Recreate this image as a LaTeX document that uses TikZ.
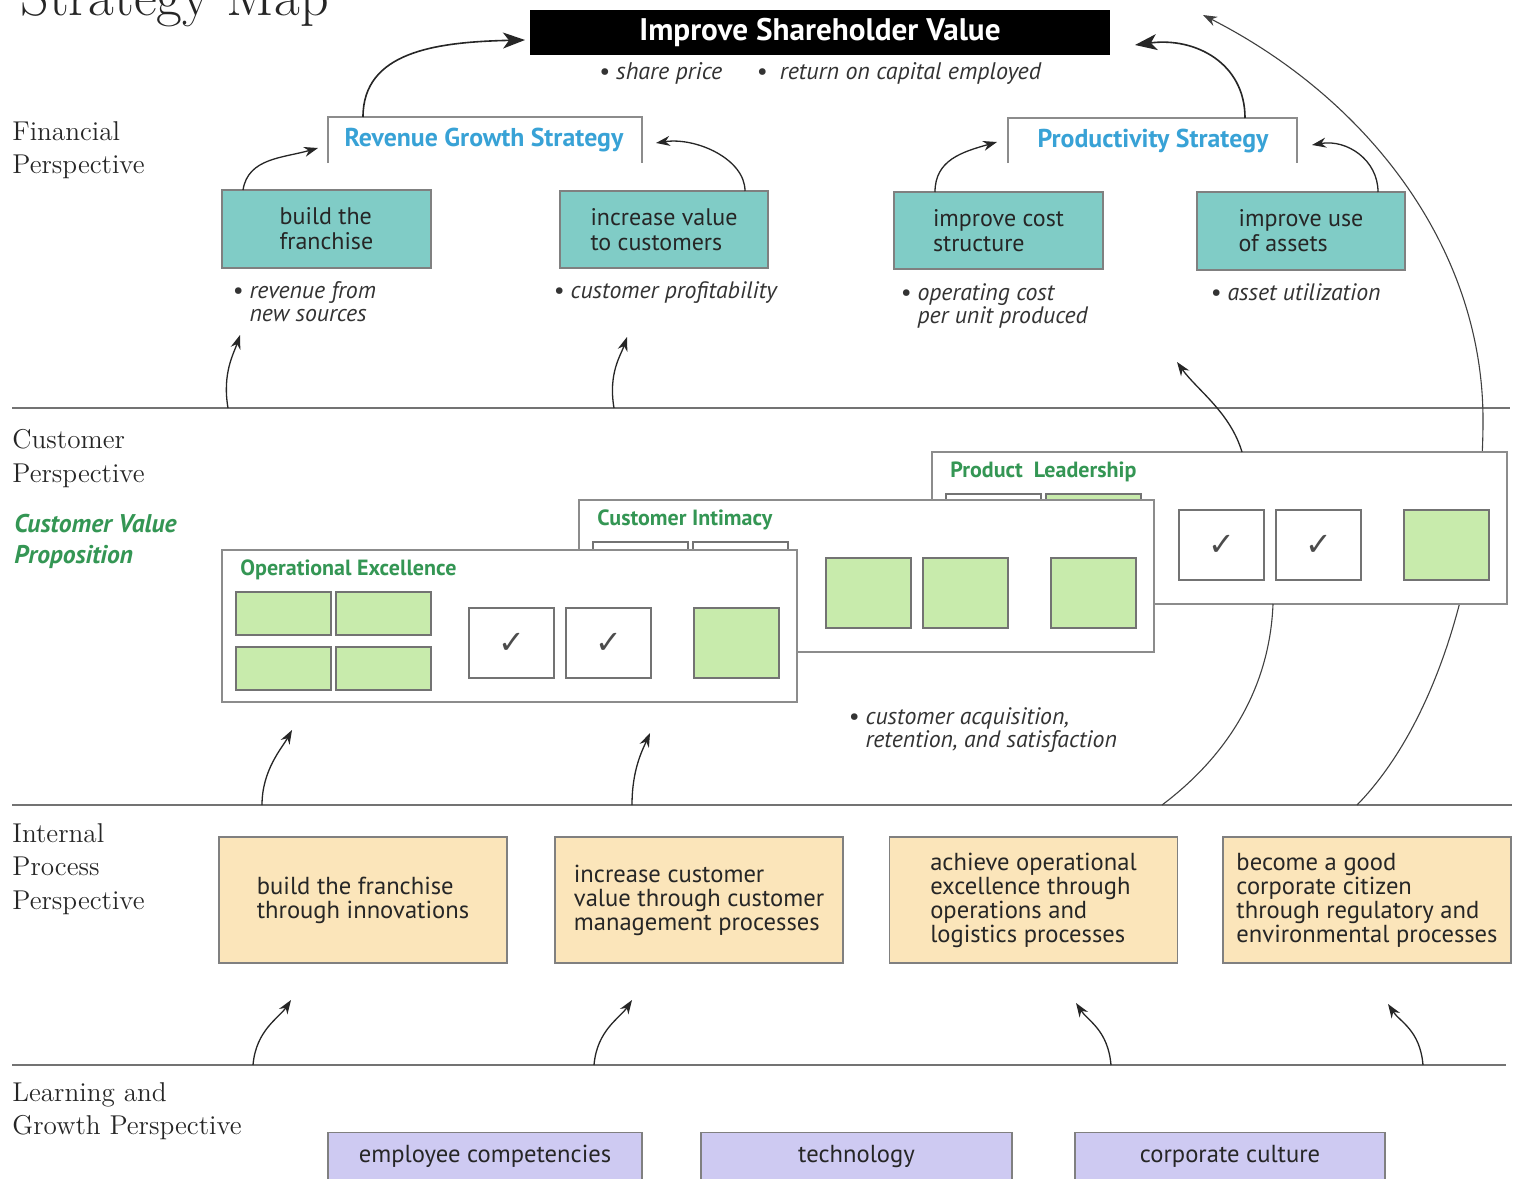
\documentclass[tikz,border=0pt]{standalone}
\usepackage{fontspec}
\setsansfont{PT Sans}
\newfontfamily\symfont{DejaVu Sans}
\usetikzlibrary{arrows.meta}
\definecolor{tealfill}{RGB}{128,204,198}
\definecolor{cellgreen}{RGB}{200,235,172}
\definecolor{procyel}{RGB}{251,229,186}
\definecolor{lavfill}{RGB}{206,202,242}
\definecolor{stratblue}{RGB}{56,162,214}
\definecolor{titlegreen}{RGB}{52,150,84}
\tikzset{
  arr/.style={draw=black!85, line width=0.65pt, -{Stealth[length=7pt,width=5pt]}},
  bigarr/.style={draw=black!85, line width=0.8pt, -{Stealth[length=11pt,width=8pt,inset=3pt]}},
  thinarc/.style={draw=black!75, line width=0.55pt},
  rulel/.style={draw=black!55, line width=0.7pt},
  persp/.style={anchor=north west, align=left, inner sep=0pt, font=\fontsize{13.6}{16.8}\selectfont, text=black!85},
  finbox/.style={draw=black!50, fill=tealfill, line width=0.7pt, inner sep=0pt, outer sep=0pt,
     font=\sffamily\fontsize{12}{12.5}\selectfont, align=left, text=black!85},
  procbox/.style={draw=black!50, fill=procyel, line width=0.7pt, inner sep=0pt, outer sep=0pt,
     minimum width=144pt, minimum height=63pt,
     font=\sffamily\fontsize{12.3}{12}\selectfont, align=left, text=black!85},
  learnbox/.style={draw=black!50, fill=lavfill, line width=0.7pt, inner sep=0pt, outer sep=0pt,
     minimum height=24pt, font=\sffamily\fontsize{12.3}{12}\selectfont, text=black!85},
  capt/.style={anchor=north west, align=left, inner sep=0pt, font=\sffamily\itshape\fontsize{11.9}{11.5}\selectfont, text=black!80},
  strat/.style={font=\sffamily\bfseries\fontsize{12.9}{13}\selectfont, text=stratblue, inner sep=0pt},
  panel/.style={draw=black!45, fill=white, line width=0.7pt, inner sep=0pt, outer sep=0pt,
     minimum width=287.5pt, minimum height=76pt, anchor=north west},
  ptitle/.style={font=\sffamily\bfseries\fontsize{11}{11}\selectfont, text=titlegreen, inner sep=0pt, anchor=west},
  gcell/.style={draw=black!55, line width=0.7pt, inner sep=0pt, outer sep=0pt, anchor=north west,
     minimum width=47.5pt, minimum height=21.5pt},
  mcell/.style={draw=black!55, line width=0.7pt, inner sep=0pt, outer sep=0pt, anchor=north west,
     minimum width=42.5pt, minimum height=35pt, font=\symfont\fontsize{16}{16}\selectfont, text=black!70},
}
% #1 name, #2 left x, #3 top y, #4 title, #5 grid fill 1, #6 grid fill 2, #7 middle fill, #8 middle mark
\newcommand\cvpanel[8]{%
  \node[panel] (#1) at (#2,#3) {};
  \node[ptitle] (#1t) at (#2+18,#3+20) {#4};
  \node[gcell, fill=#5] (#1g1) at (#2+14,#3+42) {};
  \node[gcell, fill=#6] (#1g2) at (#2+114,#3+42) {};
  \node[gcell, fill=#5] (#1g3) at (#2+14,#3+97) {};
  \node[gcell, fill=#6] (#1g4) at (#2+114,#3+97) {};
  \node[mcell, fill=#7] (#1m1) at (#2+247,#3+58) {#8};
  \node[mcell, fill=#7] (#1m2) at (#2+344,#3+58) {#8};
  \node[mcell, fill=cellgreen] (#1m3) at (#2+472,#3+58) {};
}
\begin{document}
\begin{tikzpicture}[x=0.5pt,y=-0.5pt]
\path[use as bounding box] (0,0) rectangle (1524,1178);
\fill[white] (0,0) rectangle (1524,1178);

% title (cut off at top, as in the reference)
\node[anchor=base west, inner sep=0pt, font=\fontsize{28}{28}\selectfont, text=black!85] (maptitle) at (20,15) {Strategy Map};

% perspective labels
\node[persp] (lfin) at (12,121) {Financial\\Perspective};
\node[persp] (lcus) at (12,429) {Customer\\Perspective};
\node[anchor=north west, align=left, inner sep=0pt, font=\sffamily\bfseries\itshape\fontsize{12.8}{15.5}\selectfont, text=titlegreen] (lcvp) at (14,514) {Customer Value\\Proposition};
\node[persp] (lint) at (12,823) {Internal\\Process\\Perspective};
\node[persp] (llg) at (12,1082) {Learning and\\Growth Perspective};

% separating rules
\draw[rulel] (12,408) -- (1510,408);
\draw[rulel] (12,805) -- (1512,805);
\draw[rulel] (12,1065) -- (1506,1065);

% top box
\node[fill=black, minimum width=290pt, minimum height=22.5pt, inner sep=0pt,
      font=\sffamily\bfseries\fontsize{15.6}{16}\selectfont, text=white] (shv) at (820,32.5) {Improve Shareholder Value};
\node[inner sep=0pt, font=\sffamily\itshape\fontsize{12}{12}\selectfont, text=black!80] (shvc) at (820,73)
  {\textbullet\ share price\hspace{17pt}\textbullet\ \ return on capital employed};

% strategy boxes (open at bottom)
\draw[draw=black!45, line width=0.7pt] (328,163) -- (328,117) -- (642,117) -- (642,163);
\node[strat] (rgs) at (484,140) {Revenue Growth Strategy};
\draw[draw=black!45, line width=0.7pt] (1008,163) -- (1008,118) -- (1297,118) -- (1297,163);
\node[strat] (pds) at (1153,141) {Productivity Strategy};
\coordinate (rgstop) at (363,117);
\coordinate (pdstop) at (1245,118);

% financial boxes
\node[finbox, minimum width=104.5pt, minimum height=39pt] (f1) at (326.5,229) {build the\\franchise};
\node[finbox, minimum width=104pt, minimum height=38.5pt] (f2) at (664,229.5) {increase value\\to customers};
\node[finbox, minimum width=104.5pt, minimum height=38.5pt] (f3) at (998.5,230.5) {improve cost\\structure};
\node[finbox, minimum width=104pt, minimum height=39pt] (f4) at (1301,231) {improve use\\of assets};

\node[capt] (c1) at (232,281) {\textbullet\ revenue from\\\phantom{\textbullet\ }new sources};
\node[capt] (c2) at (553,281) {\textbullet\ customer profitability};
\node[capt] (c3) at (900,283) {\textbullet\ operating cost\\\phantom{\textbullet\ }per unit produced};
\node[capt] (c4) at (1210,283) {\textbullet\ asset utilization};

% arrow targets
\coordinate (t1) at (318,148);
\coordinate (t2) at (656,143);
\coordinate (t3) at (997,142);
\coordinate (t4) at (1312,145);
\coordinate (t5) at (525,40);
\coordinate (t6) at (1135,45);

\draw[arr] (f1.north -| 243,0) .. controls +(5,-32) and +(-35,10) .. (t1);
\draw[arr] (f2.north -| 745,0) .. controls +(0,-32) and +(40,-6) .. (t2);
\draw[arr] (f3.north -| 935,0) .. controls +(0,-32) and +(-35,10) .. (t3);
\draw[arr] (f4.north -| 1378,0) .. controls +(0,-32) and +(35,-6) .. (t4);
\draw[bigarr] (rgstop) .. controls +(0,-65) and +(-90,2) .. (t5);
\draw[bigarr] (pdstop) .. controls +(0,-55) and +(60,-8) .. (t6);

% long arcs (behind panels)
\coordinate (arcA) at (1357,805);
\coordinate (arcAm) at (1483,420);
\coordinate (arcAe) at (1203,15);
\draw[thinarc, -{Stealth[length=7pt,width=5pt]}] (arcA) .. controls (1440,720) and (1483,560) .. (arcAm)
   .. controls (1483,250) and (1370,100) .. (arcAe);

% customer value proposition panels
\cvpanel{pl}{932}{452}{Product\ \ Leadership}{white}{cellgreen}{white}{✓}
\cvpanel{ci}{579}{500}{Customer Intimacy}{white}{white}{cellgreen}{}
\cvpanel{ox}{222}{550}{Operational Excellence}{cellgreen}{cellgreen}{white}{✓}

\coordinate (arcB) at (1162,805);
\draw[thinarc] (arcB) .. controls (1235,750) and (1270,680) .. (pl.south -| 1273,0);
\coordinate (t7) at (1177,362);
\draw[arr] (pl.north -| 1242,0) .. controls +(-12,-40) and +(20,28) .. (t7);

\node[capt] (c5) at (848,707) {\textbullet\ customer acquisition,\\\phantom{\textbullet\ }retention, and satisfaction};

% arrows customer -> financial
\coordinate (t8) at (240,335);
\coordinate (t9) at (627,337);
\draw[arr] (228,408) .. controls +(-6,-35) and +(-6,18) .. (t8);
\draw[arr] (614,408) .. controls +(-6,-35) and +(-6,18) .. (t9);

% arrows internal -> customer
\coordinate (t10) at (292,730);
\coordinate (t11) at (650,733);
\draw[arr] (262,805) .. controls +(0,-35) and +(-10,18) .. (t10);
\draw[arr] (632,805) .. controls +(0,-35) and +(-8,18) .. (t11);

% internal process boxes
\node[procbox] (p1) at (363,900) {build the franchise\\through innovations};
\node[procbox] (p2) at (699,900) {increase customer\\value through customer\\management processes};
\node[procbox] (p3) at (1033.5,900) {achieve operational\\excellence through\\operations and\\logistics processes};
\node[procbox] (p4) at (1367,900) {become a good\\corporate citizen\\through regulatory and\\environmental processes};

% arrows learning -> internal
\coordinate (t12) at (291,1000);
\coordinate (t13) at (632,1000);
\coordinate (t14) at (1076,1003);
\coordinate (t15) at (1388,1004);
\draw[arr] (253,1065) .. controls +(3,-35) and +(-12,18) .. (t12);
\draw[arr] (594,1065) .. controls +(3,-35) and +(-12,18) .. (t13);
\draw[arr] (1111,1065) .. controls +(-3,-35) and +(12,18) .. (t14);
\draw[arr] (1423,1065) .. controls +(-3,-35) and +(12,18) .. (t15);

% learning boxes
\node[learnbox, minimum width=157pt] (l1) at (485,1156.5) {employee competencies};
\node[learnbox, minimum width=155.5pt] (l2) at (856.5,1156.5) {technology};
\node[learnbox, minimum width=155pt] (l3) at (1230,1156.5) {corporate culture};
\end{tikzpicture}
\end{document}
